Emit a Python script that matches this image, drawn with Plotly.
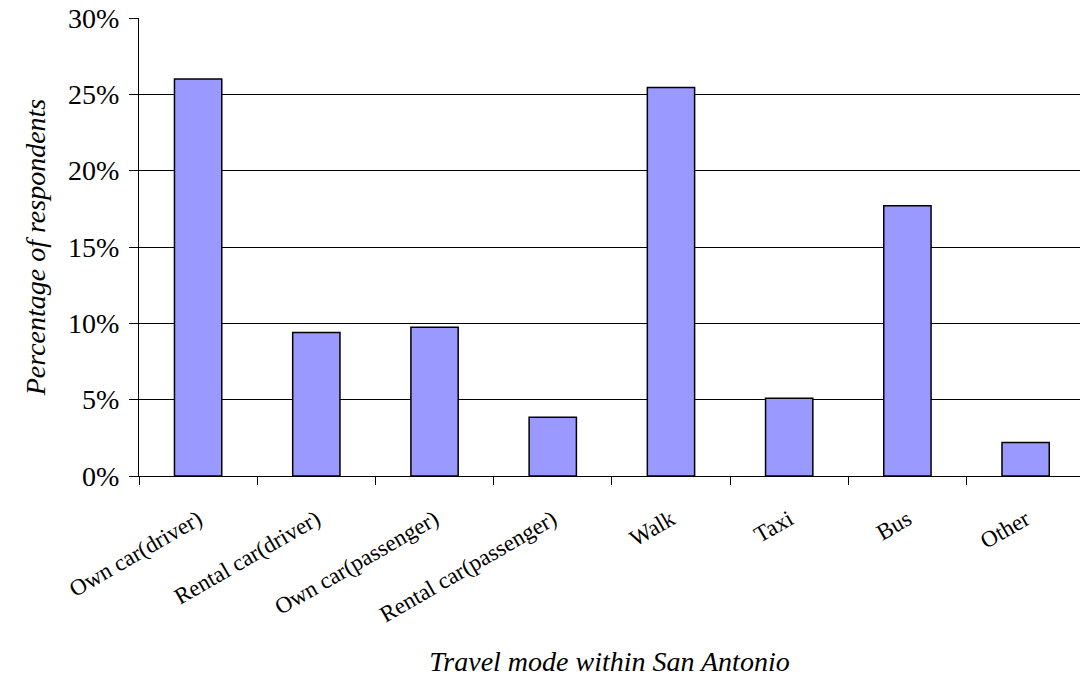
import plotly.graph_objects as go

# Survey results: how respondents travel within San Antonio
modes = [
    "Own car(driver)",
    "Rental car(driver)",
    "Own car(passenger)",
    "Rental car(passenger)",
    "Walk",
    "Taxi",
    "Bus",
    "Other",
]
share = [26.0, 9.4, 9.75, 3.85, 25.45, 5.1, 17.7, 2.2]

y_ticks = [0, 5, 10, 15, 20, 25, 30]
y_tick_text = ["0%", "5%", "10%", "15%", "20%", "25%", "30%"]

serif = "Times New Roman, Liberation Serif, serif"

fig = go.Figure(
    go.Bar(
        x=modes,
        y=share,
        width=0.4,
        marker=dict(color="#9999FF", line=dict(color="#000000", width=1.5)),
    )
)

fig.update_layout(
    width=1080,
    height=677,
    margin=dict(l=139, r=0, t=18, b=201),
    paper_bgcolor="white",
    plot_bgcolor="white",
    showlegend=False,
    font=dict(family=serif, color="black"),
)

fig.update_xaxes(
    automargin=False,
    range=[-0.5, 7.46],
    tickangle=-30,
    tickfont=dict(size=23, family=serif),
    tickson="boundaries",
    ticks="outside",
    ticklen=8,
    tickcolor="black",
    ticklabelstandoff=20,
    showline=True,
    linecolor="black",
    linewidth=1,
    showgrid=False,
    title=dict(
        text="<i>Travel mode within San Antonio</i>",
        font=dict(size=28, family=serif),
        standoff=32,
    ),
)

fig.update_yaxes(
    automargin=False,
    range=[0, 30],
    tickvals=y_ticks,
    ticktext=y_tick_text,
    tickfont=dict(size=28, family=serif),
    ticks="outside",
    ticklen=9,
    tickcolor="black",
    ticklabelstandoff=4,
    showline=True,
    linecolor="black",
    linewidth=1,
    showgrid=True,
    gridcolor="black",
    gridwidth=1,
    zeroline=False,
    title=dict(
        text="<i>Percentage of respondents</i>",
        font=dict(size=28, family=serif),
        standoff=14,
    ),
)

fig.write_html("out.html")
